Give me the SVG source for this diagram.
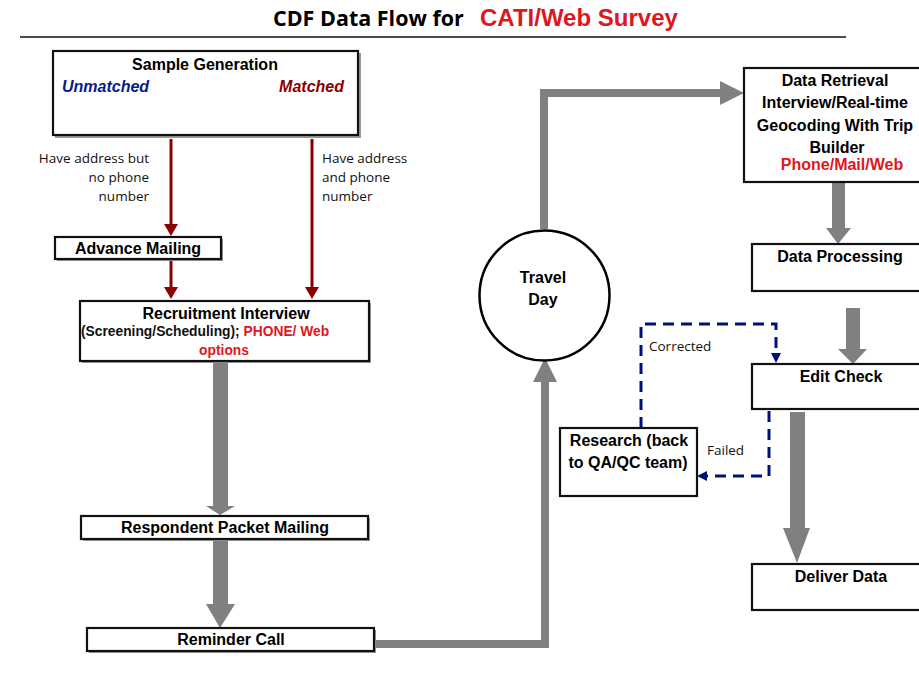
<svg xmlns="http://www.w3.org/2000/svg" width="919" height="690" viewBox="0 0 919 690">
<style>
.box{fill:#fff;stroke:#111;stroke-width:2.2}
.sh{fill:#9a9a9a}
.t{font-family:"Liberation Sans",Arial,sans-serif;font-weight:bold;fill:#000;font-size:16px}
.s{font-family:"Open Sans","Liberation Sans",sans-serif;fill:#111;font-size:13.5px}
.red{fill:#e0161d}
.gl{fill:none;stroke:#808080;stroke-width:8}
.ga{fill:#808080}
.rl{stroke:#8b0000;stroke-width:3;fill:none}
.dl{stroke:#00107a;stroke-width:3;fill:none;stroke-dasharray:11,7}
</style>

<g id="title">
<text x="273" y="26" font-family="'Open Sans','Liberation Sans',sans-serif" font-weight="bold" font-size="21.5" fill="#000">CDF Data Flow for</text>
<text x="480" y="26" font-family="'Liberation Sans',Arial,sans-serif" font-weight="bold" font-size="24" fill="#e0161d">CATI/Web Survey</text>
<line x1="20" y1="37" x2="846" y2="37" stroke="#111" stroke-width="1.5"/>
</g>

<g id="connectors">
<path class="rl" d="M171,139 V226"/><path d="M164,224 L178,224 L171,236 Z" fill="#8b0000"/>
<path class="rl" d="M171,261 V289"/><path d="M164,287 L178,287 L171,299 Z" fill="#8b0000"/>
<path class="rl" d="M312,139 V289"/><path d="M305,287 L319,287 L312,299 Z" fill="#8b0000"/>
<rect class="ga" x="213" y="362" width="15" height="146"/><path class="ga" d="M206,506 L235,506 L220,515 Z"/>
<rect class="ga" x="213" y="540" width="15" height="66"/><path class="ga" d="M206,604 L235,604 L220,628 Z"/>
<path class="gl" d="M375,644 H545 V380"/><path class="ga" d="M533,382 L557,382 L545,358 Z"/>
<path class="gl" d="M544,229 V93 H722"/><path class="ga" d="M720,81 L744,93 L720,105 Z"/>
<rect class="ga" x="832" y="183" width="13" height="47"/><path class="ga" d="M826,228 L851,228 L838,244 Z"/>
<rect class="ga" x="846" y="308" width="14" height="43"/><path class="ga" d="M838,349 L867,349 L853,364 Z"/>
<rect class="ga" x="790" y="412" width="15" height="118"/><path class="ga" d="M783,528 L810,528 L797,563 Z"/>
<path class="dl" d="M641,428 V324 H776 V354"/><path d="M771,353 L781,353 L776,363 Z" fill="#00107a"/>
<path class="dl" d="M769,411 V476 H706"/><path d="M707,471 L707,481 L697,476 Z" fill="#00107a"/>
<text class="s" x="649" y="351">Corrected</text>
<text class="s" x="707" y="455">Failed</text>
<text class="s" x="149" y="163" text-anchor="end">Have address but</text>
<text class="s" x="149" y="182" text-anchor="end">no phone</text>
<text class="s" x="149" y="201" text-anchor="end">number</text>
<text class="s" x="322" y="163">Have address</text>
<text class="s" x="322" y="182">and phone</text>
<text class="s" x="322" y="201">number</text>
</g>

<g id="sample-generation">
<rect class="sh" x="55" y="53" width="306" height="85"/>
<rect class="box" x="53" y="51" width="305" height="84" stroke-width="3"/>
<text class="t" x="205" y="70" text-anchor="middle">Sample Generation</text>
<text class="t" x="62" y="92" font-style="italic" style="fill:#0c1a8a">Unmatched</text>
<text class="t" x="344" y="92" font-style="italic" text-anchor="end" style="fill:#8b0000">Matched</text>
</g>

<g id="advance-mailing">
<rect class="sh" x="57" y="239" width="166" height="22"/>
<rect class="box" x="55" y="237" width="166" height="22"/>
<text class="t" x="138" y="254" text-anchor="middle">Advance Mailing</text>
</g>

<g id="recruitment-interview">
<rect class="sh" x="82" y="303" width="289" height="60"/>
<rect class="box" x="80" y="301" width="289" height="60"/>
<text class="t" x="226" y="319" text-anchor="middle" font-size="16.5">Recruitment Interview</text>
<text x="81" y="336" font-family="'Liberation Sans',sans-serif" font-weight="bold" font-size="13.8" fill="#111">(Screening/Scheduling); <tspan fill="#e0161d">PHONE/ Web</tspan></text>
<text x="224" y="355" text-anchor="middle" font-family="'Liberation Sans',sans-serif" font-weight="bold" font-size="13.8" fill="#e0161d">options</text>
</g>

<g id="respondent-packet-mailing">
<rect class="sh" x="83" y="518" width="287" height="23"/>
<rect class="box" x="81" y="516" width="287" height="23"/>
<text class="t" x="225" y="533" text-anchor="middle">Respondent Packet Mailing</text>
</g>

<g id="reminder-call">
<rect class="sh" x="89" y="630" width="287" height="23"/>
<rect class="box" x="87" y="628" width="287" height="23"/>
<text class="t" x="231" y="645" text-anchor="middle">Reminder Call</text>
</g>

<g id="travel-day">
<circle cx="544.5" cy="295.5" r="65" fill="#fff" stroke="#000" stroke-width="2.5"/>
<text class="t" x="543" y="283" text-anchor="middle" font-size="14">Travel</text>
<text class="t" x="543" y="305" text-anchor="middle" font-size="14">Day</text>
</g>

<g id="data-retrieval">
<rect class="box" x="744" y="68" width="180" height="114"/>
<text class="t" x="835" y="86" text-anchor="middle">Data Retrieval</text>
<text class="t" x="835" y="108" text-anchor="middle">Interview/Real-time</text>
<text class="t" x="835" y="131" text-anchor="middle">Geocoding With Trip</text>
<text class="t" x="837" y="153" text-anchor="middle" font-size="14">Builder</text>
<text class="t" x="842" y="170" text-anchor="middle" font-size="18.5" style="fill:#e0161d">Phone/Mail/Web</text>
</g>

<g id="data-processing">
<rect class="box" x="752" y="244" width="172" height="47"/>
<text class="t" x="840" y="262" text-anchor="middle">Data Processing</text>
</g>

<g id="edit-check">
<rect class="box" x="752" y="364" width="172" height="45"/>
<text class="t" x="841" y="382" text-anchor="middle" font-size="15">Edit Check</text>
</g>

<g id="research">
<rect class="box" x="560" y="428" width="137" height="68"/>
<text class="t" x="629" y="446" text-anchor="middle" font-size="15.5">Research (back</text>
<text class="t" x="628" y="468" text-anchor="middle" font-size="15.5">to QA/QC team)</text>
</g>

<g id="deliver-data">
<rect class="box" x="752" y="564" width="172" height="46"/>
<text class="t" x="841" y="582" text-anchor="middle">Deliver Data</text>
</g>
</svg>
